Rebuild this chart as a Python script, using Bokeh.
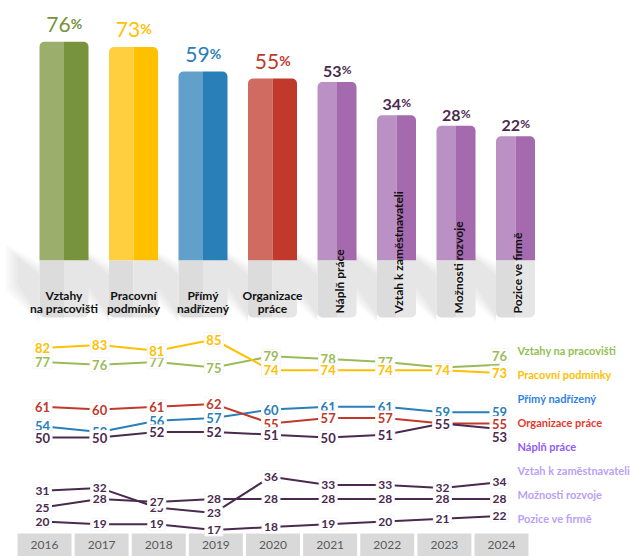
import math
from bokeh.plotting import figure
from bokeh.layouts import column
from bokeh.models import Range1d, ColumnDataSource
from bokeh.core.properties import value
from bokeh.embed import file_html
from bokeh.resources import INLINE

# ---------------- data ----------------
categories = ["Vztahy na pracovišti", "Pracovní podmínky", "Přímý nadřízený",
              "Organizace práce", "Náplň práce", "Vztah k zaměstnavateli",
              "Možnosti rozvoje", "Pozice ve firmě"]
share_2024 = [76, 73, 59, 55, 53, 34, 28, 22]

years = [2016, 2017, 2018, 2019, 2020, 2021, 2022, 2023, 2024]
year_labels = ["2016", "2017", "2018", "2019", "2020", "2021", "2022", "2023", "2024"]
vztahy = [77, 76, 77, 75, 79, 78, 77, 75, 76]
podminky = [82, 83, 81, 85, 74, 74, 74, 74, 73]
nadrizeny = [54, 52, 56, 57, 60, 61, 61, 59, 59]
organizace = [61, 60, 61, 62, 55, 57, 57, 55, 55]
napln = [50, 50, 52, 52, 51, 50, 51, 55, 53]
vztah_zam = [31, 32, 25, 23, 36, 33, 33, 32, 34]
rozvoj = [25, 28, 27, 28, 28, 28, 28, 28, 28]
pozice = [20, 19, 19, 17, 18, 19, 20, 21, 22]
series = [vztahy, podminky, nadrizeny, organizace, napln, vztah_zam, rozvoj, pozice]

# ---------------- styles ----------------
FONT = value("Lato")
bar_left_col = ["#9bae6c", "#ffcf40", "#60a0cb", "#d06b62", "#bb90c5", "#bb90c5", "#bb90c5", "#bb90c5"]
bar_right_col = ["#77933c", "#ffc000", "#2980b9", "#c0392b", "#a569ad", "#a569ad", "#a569ad", "#a569ad"]
pct_col = ["#77933c", "#ffc000", "#2980b9", "#c0392b", "#4b2a4f", "#4b2a4f", "#4b2a4f", "#4b2a4f"]
bar_w = [49, 49, 49, 49, 39, 39, 39, 39]
line_col = ["#9bbb59", "#ffc000", "#2980b9", "#c0392b", "#4b2a4f", "#4b2a4f", "#4b2a4f", "#4b2a4f"]
legend_col = ["#92c050", "#ffc000", "#2f7fe6", "#e5392f", "#8f5cf5", "#b9a1f7", "#b9a1f7", "#b9a1f7"]
label_dy = {(4, 2024): 8, (0, 2024): -9}

W = 630
ORIGIN = 0
# ---------------- top figure (bars) ----------------
TOP_S0, TOP_S1 = 0, 330           # screen rows covered
PX_PER_PCT = 1.75


def ty(s):
    return (174.25 - s) / PX_PER_PCT


f1 = figure(width=W, height=TOP_S1 - TOP_S0, x_range=Range1d(ORIGIN, ORIGIN + W),
            y_range=Range1d(ty(TOP_S1), ty(TOP_S0)), output_backend="svg",
            toolbar_location=None, min_border=0, x_axis_location=None,
            y_axis_location=None, outline_line_color=None,
            background_fill_color="white", border_fill_color="white")
f1.xgrid.visible = False
f1.ygrid.visible = False

lefts, centers, rights = [], [], []
x = 39.0
for w in bar_w:
    lefts.append(x)
    centers.append(x + w / 2)
    rights.append(x + w)
    x += w + 20.5

col_bottom = ty(260)
box_bottom = ty(317)

# soft shadows (layered translucent bands)
for inset in [0, 3, 6, 9, 12]:
    xs, ys = [], []
    for L in lefts:
        pts = [(L, 262 + inset), (L, 322 - inset * 0.5), (L - 34 + inset, 290 - inset * 0.5),
               (L - 34 + inset, 244 + inset)]
        xs.append([p[0] for p in pts])
        ys.append([ty(p[1]) for p in pts])
    f1.patches(xs, ys, fill_color="#000000", fill_alpha=0.018, line_color=None)

src = ColumnDataSource(dict(l=lefts, c=centers, r=rights, v=share_2024,
                            lc=bar_left_col, rc=bar_right_col))
f1.quad(left="l", right="c", top="v", bottom=col_bottom, fill_color="lc",
        line_color=None, source=src, border_radius=(5, 0, 0, 0))
f1.quad(left="c", right="r", top="v", bottom=col_bottom, fill_color="rc",
        line_color=None, source=src, border_radius=(0, 5, 0, 0))
f1.quad(left="l", right="c", top=col_bottom, bottom=box_bottom, fill_color="#dcdcdc",
        line_color=None, source=src, border_radius=(0, 0, 0, 5))
f1.quad(left="c", right="r", top=col_bottom, bottom=box_bottom, fill_color="#e6e6e6",
        line_color=None, source=src, border_radius=(0, 0, 5, 0))

# value labels
for i, v in enumerate(share_2024):
    big = i < 4
    fs = 21 if big else 16
    pfs = 14 if big else 12
    Wn = 2 * 0.56 * fs
    Pw = 0.72 * pfs
    split = centers[i] + (Wn - Pw) / 2
    style = "normal" if big else "bold"
    gap = (10 if big else 5) / PX_PER_PCT
    f1.text(x=[split], y=[v + gap], text=[str(v)], text_align="right",
            text_baseline="bottom", text_font=FONT, text_font_size=f"{fs}px",
            text_font_style=style, text_color=pct_col[i])
    f1.text(x=[split], y=[v + gap], text=["%"], text_align="left",
            text_baseline="bottom", text_font=FONT, text_font_size=f"{pfs}px",
            text_font_style="bold", text_color=pct_col[i])

# category labels (two lines, horizontal for first four)
first = [c.split(" ", 1)[0] for c in categories[:4]]
second = [c.split(" ", 1)[1] for c in categories[:4]]
for txt, s in ((first, 295), (second, 308)):
    f1.text(x=centers[:4], y=[ty(s)] * 4, text=txt, text_align="center",
            text_baseline="middle", text_font=FONT, text_font_size="12px",
            text_font_style="bold", text_color="#111111")
f1.text(x=[c + 2 for c in centers[4:]], y=[ty(313)] * 4, text=categories[4:],
        angle=math.pi / 2, text_align="left", text_baseline="middle", text_font=FONT,
        text_font_size="12px", text_font_style="bold", text_color="#111111")

# ---------------- bottom figure (lines) ----------------
BOT_S0, BOT_S1 = 330, 556
PX_PER_YEAR = 57.125


def bx(s):
    return 2016 + (s - 42) / PX_PER_YEAR


def by(s):
    return 50 + (437 - s) / 2.8


f2 = figure(width=W, height=BOT_S1 - BOT_S0, x_range=Range1d(bx(ORIGIN), bx(ORIGIN + W)),
            y_range=Range1d(by(BOT_S1), by(BOT_S0)), output_backend="svg",
            toolbar_location=None, min_border=0, x_axis_location=None,
            y_axis_location=None, outline_line_color=None,
            background_fill_color="white", border_fill_color="white")
f2.xgrid.visible = False
f2.ygrid.visible = False

# year boxes
half = 27 / PX_PER_YEAR
shift = 2 / PX_PER_YEAR
f2.quad(left=[y - half + shift for y in years], right=[y + half + shift for y in years],
        top=by(533), bottom=by(BOT_S1), fill_color="#d9d9d9", line_color=None)
f2.text(x=[y + shift for y in years], y=[by(544)] * len(years), text=year_labels,
        text_align="center", text_baseline="middle", text_font=FONT, text_font_size="12px",
        text_color="#595959")

for i, s in enumerate(series):
    f2.line(years, s, line_color=line_col[i], line_width=2)

for i, s in enumerate(series):
    dys = [label_dy.get((i, y), 0) for y in years]
    f2.text(x=years, y=s, text=[str(v) for v in s], y_offset=dys,
            text_align="center", text_baseline="middle", text_font=FONT,
            text_font_size="13px" if i < 5 else "12px", text_font_style="bold",
            text_color=line_col[i], background_fill_color="white",
            border_line_color="#f6f6f6", padding=2)

# legend
f2.text(x=[bx(517)] * len(categories), y=[by(350 + 24 * k) for k in range(len(categories))],
        text=categories, text_color=legend_col, text_align="left", text_baseline="middle",
        text_font=FONT, text_font_size="11px", text_font_style="bold")

layout = column(f1, f2, spacing=0)
open("out.html", "w").write(file_html(layout, INLINE))
